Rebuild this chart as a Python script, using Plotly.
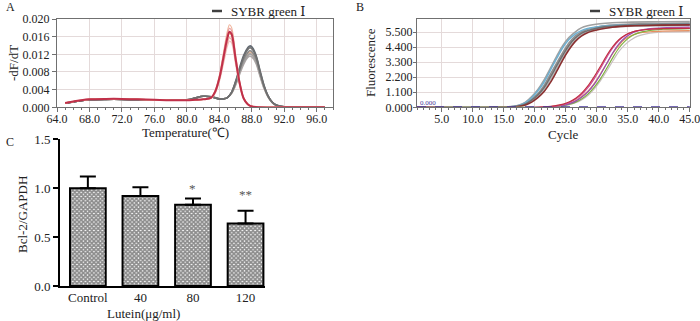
import plotly.graph_objects as go

W, H = 700, 321
FONT = "Liberation Serif, Times New Roman, serif"

# ---------------- Panel A: melt curves ----------------
A_RED_X = [65, 66, 67, 68, 70, 72, 74, 76, 78, 80, 81, 82, 83, 83.5, 84, 84.5, 85, 85.25, 85.5, 86, 86.5, 87, 87.5, 88, 89, 92, 97]
A_RED_CURVES = {
    "#f0b8a0": [0.0010, 0.0013, 0.0016, 0.0018, 0.0019, 0.0019, 0.0018, 0.0017, 0.0016, 0.0016, 0.0017, 0.0018, 0.0023, 0.0039, 0.0072, 0.0123, 0.0173, 0.0187, 0.0181, 0.0120, 0.0059, 0.0021, 0.0007, 0.0002, 0.0, 0.0, 0.0],
    "#e89a9a": [0.0010, 0.0013, 0.0016, 0.0018, 0.0019, 0.0019, 0.0018, 0.0017, 0.0016, 0.0016, 0.0017, 0.0018, 0.0022, 0.0037, 0.0069, 0.0118, 0.0166, 0.0179, 0.0174, 0.0115, 0.0057, 0.0021, 0.0007, 0.0002, 0.0, 0.0, 0.0],
    "#f4c4c0": [0.0010, 0.0013, 0.0016, 0.0018, 0.0019, 0.0019, 0.0018, 0.0017, 0.0016, 0.0016, 0.0017, 0.0018, 0.0020, 0.0032, 0.0058, 0.0098, 0.0139, 0.0150, 0.0146, 0.0097, 0.0049, 0.0018, 0.0006, 0.0002, 0.0, 0.0, 0.0],
    "#e8a868": [0.0010, 0.0013, 0.0016, 0.0018, 0.0019, 0.0019, 0.0018, 0.0017, 0.0016, 0.0016, 0.0017, 0.0018, 0.0021, 0.0035, 0.0064, 0.0109, 0.0155, 0.0168, 0.0163, 0.0108, 0.0054, 0.0020, 0.0007, 0.0002, 0.0, 0.0, 0.0],
    "#e8a8a0": [0.0010, 0.0013, 0.0016, 0.0018, 0.0019, 0.0019, 0.0018, 0.0017, 0.0016, 0.0016, 0.0017, 0.0018, 0.0021, 0.0034, 0.0061, 0.0103, 0.0146, 0.0158, 0.0153, 0.0102, 0.0051, 0.0019, 0.0006, 0.0002, 0.0, 0.0, 0.0],
    "#c0304a": [0.0010, 0.0013, 0.0016, 0.0018, 0.0019, 0.0019, 0.0018, 0.0017, 0.0016, 0.0016, 0.0017, 0.0018, 0.0022, 0.0036, 0.0066, 0.0112, 0.0158, 0.0171, 0.0166, 0.0110, 0.0055, 0.0020, 0.0007, 0.0002, 0.0, 0.0, 0.0],
}
A_GRAY_X = [65, 66, 67, 68, 70, 72, 74, 76, 78, 80, 81, 82, 83, 84, 84.5, 85, 85.5, 86, 86.5, 87, 87.5, 87.75, 88, 88.5, 89, 89.5, 90, 90.5, 91, 92, 97]
A_GRAY_CURVES = {
    "#b0a8a8": [0.0009, 0.0012, 0.0015, 0.0017, 0.0018, 0.0018, 0.0017, 0.0016, 0.0016, 0.0017, 0.0021, 0.0025, 0.0024, 0.0019, 0.0019, 0.0022, 0.0031, 0.0050, 0.0075, 0.0098, 0.0113, 0.0116, 0.0114, 0.0100, 0.0071, 0.0043, 0.0023, 0.0011, 0.0004, 0.0001, 0.0],
    "#e8b898": [0.0009, 0.0012, 0.0015, 0.0017, 0.0018, 0.0018, 0.0017, 0.0016, 0.0016, 0.0017, 0.0021, 0.0025, 0.0024, 0.0019, 0.0019, 0.0022, 0.0032, 0.0053, 0.0081, 0.0105, 0.0121, 0.0125, 0.0123, 0.0107, 0.0076, 0.0046, 0.0024, 0.0011, 0.0004, 0.0001, 0.0],
    "#a0a0a0": [0.0009, 0.0012, 0.0015, 0.0017, 0.0018, 0.0018, 0.0017, 0.0016, 0.0016, 0.0017, 0.0021, 0.0025, 0.0024, 0.0019, 0.0019, 0.0022, 0.0032, 0.0052, 0.0079, 0.0102, 0.0117, 0.0121, 0.0119, 0.0104, 0.0074, 0.0045, 0.0024, 0.0011, 0.0004, 0.0001, 0.0],
    "#8a8a8a": [0.0009, 0.0012, 0.0015, 0.0017, 0.0018, 0.0018, 0.0017, 0.0016, 0.0016, 0.0017, 0.0021, 0.0025, 0.0024, 0.0019, 0.0019, 0.0022, 0.0033, 0.0055, 0.0083, 0.0108, 0.0124, 0.0128, 0.0126, 0.0110, 0.0078, 0.0047, 0.0025, 0.0012, 0.0005, 0.0001, 0.0],
    "#606870": [0.0009, 0.0012, 0.0015, 0.0017, 0.0018, 0.0018, 0.0017, 0.0016, 0.0016, 0.0017, 0.0021, 0.0025, 0.0024, 0.0019, 0.0019, 0.0022, 0.0034, 0.0059, 0.0090, 0.0118, 0.0135, 0.0139, 0.0137, 0.0119, 0.0084, 0.0050, 0.0026, 0.0012, 0.0005, 0.0001, 0.0],
    "#707070": [0.0009, 0.0012, 0.0015, 0.0017, 0.0018, 0.0018, 0.0017, 0.0016, 0.0016, 0.0017, 0.0021, 0.0025, 0.0024, 0.0019, 0.0019, 0.0022, 0.0034, 0.0057, 0.0087, 0.0114, 0.0131, 0.0135, 0.0133, 0.0116, 0.0082, 0.0049, 0.0026, 0.0012, 0.0005, 0.0001, 0.0],
}

# ---------------- Panel B: amplification curves ----------------
B_GRAY_X = [1, 14.5, 16.5, 17.5, 18.5, 19.5, 20.5, 21.5, 22.5, 23.5, 24.5, 25.5, 26.5, 27.5, 28.5, 30.5, 32.5, 35.5, 40.5, 45]
B_GRAY_CURVES = {
    "#b8b8b8": [0, 0, 0.03, 0.08, 0.20, 0.45, 0.80, 1.30, 2.00, 2.80, 3.60, 4.35, 4.90, 5.30, 5.50, 5.75, 5.85, 5.92, 5.95, 5.97],
    "#a0a0a0": [0, 0, 0.07, 0.17, 0.38, 0.78, 1.30, 2.00, 2.85, 3.70, 4.50, 5.10, 5.50, 5.80, 5.95, 6.10, 6.18, 6.22, 6.25, 6.27],
    "#909090": [0, 0, 0.05, 0.12, 0.28, 0.60, 1.00, 1.60, 2.40, 3.20, 4.00, 4.70, 5.20, 5.50, 5.70, 5.90, 6.00, 6.08, 6.12, 6.15],
    "#70b0d0": [0, 0, 0.06, 0.15, 0.33, 0.70, 1.20, 1.85, 2.70, 3.55, 4.35, 4.95, 5.35, 5.60, 5.75, 5.90, 5.97, 6.02, 6.05, 6.07],
    "#707070": [0, 0, 0.04, 0.10, 0.24, 0.52, 0.90, 1.45, 2.20, 3.00, 3.80, 4.52, 5.05, 5.40, 5.60, 5.82, 5.92, 6.00, 6.04, 6.06],
    "#8a3030": [0, 0, 0.03, 0.07, 0.17, 0.38, 0.70, 1.15, 1.80, 2.60, 3.45, 4.20, 4.80, 5.20, 5.45, 5.70, 5.85, 5.95, 6.00, 6.02],
}
B_RED_X = [1, 20.6, 22.6, 24.6, 25.6, 26.6, 27.6, 28.6, 29.6, 30.6, 31.6, 32.6, 33.6, 34.6, 35.6, 36.6, 38.6, 40.6, 45]
B_RED_CURVES = {
    "#c8c0c0": [0, 0, 0.03, 0.10, 0.20, 0.33, 0.55, 0.88, 1.35, 1.95, 2.65, 3.40, 4.10, 4.60, 4.95, 5.20, 5.42, 5.50, 5.55],
    "#e89060": [0, 0, 0.05, 0.18, 0.30, 0.50, 0.80, 1.20, 1.75, 2.45, 3.20, 3.95, 4.55, 5.00, 5.25, 5.40, 5.52, 5.57, 5.60],
    "#80b040": [0, 0, 0.03, 0.12, 0.22, 0.38, 0.62, 0.98, 1.48, 2.10, 2.85, 3.65, 4.35, 4.85, 5.20, 5.42, 5.62, 5.70, 5.75],
    "#9050b0": [0, 0, 0.04, 0.15, 0.27, 0.45, 0.75, 1.15, 1.70, 2.40, 3.20, 4.00, 4.65, 5.10, 5.40, 5.58, 5.75, 5.80, 5.85],
    "#d050a0": [0, 0, 0.06, 0.20, 0.36, 0.60, 0.95, 1.45, 2.10, 2.85, 3.65, 4.35, 4.90, 5.25, 5.47, 5.60, 5.72, 5.77, 5.80],
    "#c03040": [0, 0, 0.07, 0.23, 0.40, 0.66, 1.05, 1.58, 2.25, 3.00, 3.78, 4.45, 4.95, 5.28, 5.48, 5.60, 5.70, 5.74, 5.76],
}
B_THRESHOLD = 0.0
B_CYCLE_RANGE = [1, 45]

# ---------------- Panel C: bar chart ----------------
C_CATEGORIES = ["Control", "40", "80", "120"]
C_VALUES = [1.00, 0.92, 0.83, 0.64]
C_ERRORS = [0.12, 0.09, 0.065, 0.13]
C_SIG = ["", "", "*", "**"]
C_SIG_Y = [None, None, 0.995, 0.935]


def xd(a, b):
    return [a / W, b / W]


def yd(top, bottom):
    return [1 - bottom / H, 1 - top / H]


fig = go.Figure()

for color, ys in A_GRAY_CURVES.items():
    fig.add_trace(go.Scatter(x=A_GRAY_X, y=ys, mode="lines", line=dict(color=color, width=1.6, shape="spline"),
                             xaxis="x", yaxis="y", showlegend=False, hoverinfo="skip"))
for color, ys in A_RED_CURVES.items():
    fig.add_trace(go.Scatter(x=A_RED_X, y=ys, mode="lines",
                             line=dict(color=color, width=2 if color == "#c0304a" else 1.2, shape="spline"),
                             xaxis="x", yaxis="y", showlegend=False, hoverinfo="skip"))

for color, ys in B_GRAY_CURVES.items():
    fig.add_trace(go.Scatter(x=B_GRAY_X, y=ys, mode="lines", line=dict(color=color, width=1.6, shape="spline"),
                             xaxis="x2", yaxis="y2", showlegend=False, hoverinfo="skip"))
for color, ys in B_RED_CURVES.items():
    fig.add_trace(go.Scatter(x=B_RED_X, y=ys, mode="lines", line=dict(color=color, width=1.2, shape="spline"),
                             xaxis="x2", yaxis="y2", showlegend=False, hoverinfo="skip"))
fig.add_trace(go.Scatter(x=B_CYCLE_RANGE, y=[B_THRESHOLD, B_THRESHOLD], mode="lines",
                         line=dict(color="#4a3a9a", width=2, dash="dash"),
                         xaxis="x2", yaxis="y2", showlegend=False, hoverinfo="skip"))

fig.add_trace(go.Bar(
    x=list(range(len(C_CATEGORIES))), y=C_VALUES, width=0.68,
    marker=dict(color="white", line=dict(color="black", width=2),
                pattern=dict(shape="x", size=3, solidity=0.8, fgcolor="#1a1a1a", bgcolor="#ffffff", fillmode="overlay")),
    error_y=dict(type="data", array=C_ERRORS, arrayminus=[0] * len(C_ERRORS), symmetric=False,
                 color="black", thickness=2, width=8),
    xaxis="x3", yaxis="y3", showlegend=False, hoverinfo="skip"))

grid = "#e4dada"
frame = "#707070"
tickf = dict(family=FONT, size=12, color="#222")

layout = dict(
    width=W, height=H, margin=dict(l=0, r=0, t=0, b=0, autoexpand=False),
    paper_bgcolor="white", plot_bgcolor="white",
    font=dict(family=FONT, size=12, color="#222"),
    xaxis=dict(domain=xd(57, 333), range=[64, 98], dtick=4, tick0=64, tickformat=".1f",
               showgrid=True, gridcolor=grid, gridwidth=1, zeroline=False,
               showline=True, linecolor=frame, linewidth=1, mirror=True,
               ticks="outside", ticklen=4, tickcolor=frame, tickfont=tickf, ticklabelstandoff=-4,
               minor=dict(dtick=1, ticks="outside", ticklen=2, tickcolor=frame, showgrid=False),
               anchor="y", automargin=False),
    yaxis=dict(domain=yd(19, 107.3), range=[0, 0.020], dtick=0.004, tickformat=".3f",
               showgrid=True, gridcolor=grid, zeroline=False,
               showline=True, linecolor=frame, linewidth=1, mirror=True,
               ticks="outside", ticklen=4, tickcolor=frame, tickfont=tickf, anchor="x", automargin=False),
    xaxis2=dict(domain=xd(417, 690), range=[1, 45.03], dtick=5, tick0=0, tickformat=".1f",
                showgrid=True, gridcolor=grid, zeroline=False,
                showline=True, linecolor=frame, linewidth=1, mirror=True,
                ticks="outside", ticklen=4, tickcolor=frame, tickfont=tickf, ticklabelstandoff=-4,
                ticklabeloverflow="allow",
                minor=dict(dtick=1, ticks="outside", ticklen=2, tickcolor=frame, showgrid=False),
                anchor="y2", automargin=False),
    yaxis2=dict(domain=yd(19, 107.3), range=[0, 6.45], dtick=1.1, tick0=0, tickformat=".3f",
                showgrid=True, gridcolor=grid, zeroline=False,
                showline=True, linecolor=frame, linewidth=1, mirror=True,
                ticks="outside", ticklen=3, tickcolor=frame, tickfont=tickf, ticklabelstandoff=-2,
                anchor="x2", automargin=False),
    xaxis3=dict(domain=xd(60, 265), range=[-0.53, 3.37],
                tickvals=list(range(len(C_CATEGORIES))), ticktext=C_CATEGORIES,
                showgrid=False, zeroline=False, showline=True, linecolor="black", linewidth=2,
                ticks="", ticklabelstandoff=-2,
                tickfont=dict(family=FONT, size=13, color="#222"), anchor="y3", automargin=False),
    yaxis3=dict(domain=yd(139.3, 286), range=[0, 1.5], dtick=0.5, tickformat=".1f",
                showgrid=False, zeroline=False, showline=True, linecolor="black", linewidth=2,
                ticks="outside", ticklen=5, tickwidth=2, tickcolor="black",
                tickfont=dict(family=FONT, size=13, color="#222"), anchor="x3", automargin=False),
)
fig.update_layout(**layout)


def P(px, py):
    return px / W, 1 - py / H


anns = []


def ann(text, px, py, size=13, angle=0, xanchor="center", yanchor="middle", color="#222"):
    x, y = P(px, py)
    anns.append(dict(text=text, x=x, y=y, xref="paper", yref="paper", showarrow=False,
                     font=dict(family=FONT, size=size, color=color), textangle=angle,
                     xanchor=xanchor, yanchor=yanchor))


ROMAN_ONE = "<span style='font-family:DejaVu Serif'>Ⅰ</span>"
ann("A", 4, 7, size=12, xanchor="left")
ann("B", 354, 7, size=12, xanchor="left")
ann("C", 4, 142, size=12, xanchor="left")
ann("-dF/dT", 13, 63, angle=-90)
ann("Temperature(℃)", 185, 133)
ann("Fluorescence", 370, 63, angle=-90)
ann("Cycle", 563, 135)
ann("Bcl-2/GAPDH", 22, 215, angle=-90)
ann("Lutein(μg/ml)", 143, 313)
ann("SYBR green " + ROMAN_ONE, 229, 11, xanchor="left")
ann("SYBR green " + ROMAN_ONE, 607, 11, xanchor="left")
ann("0.000", 418, 103, size=7, xanchor="left", color="#4a3a9a")

for i, (s, sy) in enumerate(zip(C_SIG, C_SIG_Y)):
    if s:
        anns.append(dict(text=s, x=i, y=sy, xref="x3", yref="y3", showarrow=False,
                         font=dict(family=FONT, size=13, color="#555555"), yanchor="middle"))

fig.update_layout(annotations=anns)

shapes = []
for x0, x1 in [(212, 222), (590, 600)]:
    a0, b0 = P(x0, 11)
    a1, _ = P(x1, 11)
    shapes.append(dict(type="line", xref="paper", yref="paper", x0=a0, x1=a1, y0=b0, y1=b0,
                       line=dict(color="#404040", width=2.5)))
fig.update_layout(shapes=shapes)

fig.write_html("out.html", config={"displayModeBar": False},
               post_script="document.body.style.margin='0';document.body.style.padding='0';document.body.style.overflow='hidden';")
